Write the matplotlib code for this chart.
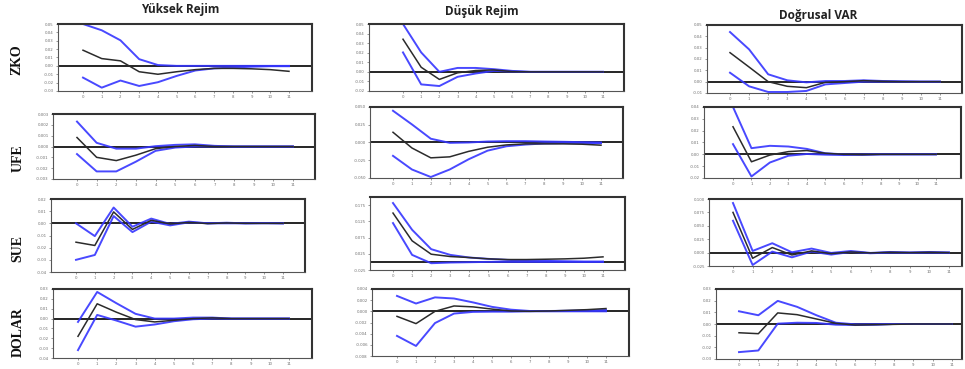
import numpy as np
import matplotlib.pyplot as plt

W, H = 965, 369

steps = list(range(12))
col_titles = ["Yüksek Rejim", "Düşük Rejim", "Doğrusal VAR"]
row_names = ["ZKO", "UFE", "SUE", "DOLAR"]

# --- Yüksek Rejim ---
yr_zko = [0.0187, 0.0087, 0.006, -0.007, -0.010, -0.007, -0.0045, -0.003, -0.003, -0.0035, -0.0045, -0.0065]
yr_zko_up = [0.050, 0.0425, 0.0305, 0.008, 0.001, 0.0, 0.0, 0.0, 0.0, 0.0, 0.0, 0.0]
yr_zko_lo = [-0.014, -0.026, -0.0175, -0.024, -0.0195, -0.012, -0.0055, -0.003, -0.002, -0.001, -0.0004, -0.0004]

yr_ufe = [0.00083, -0.0010, -0.0013, -0.0008, -0.0002, 0.0, 0.0001, 0.0, 0.0, 0.0, 0.0, 0.0]
yr_ufe_up = [0.0023, 0.00034, -0.0002, -0.0002, 0.00003, 0.00015, 0.0002, 0.00006, 0.0, 0.0, 0.0, 0.0]
yr_ufe_lo = [-0.0007, -0.0023, -0.0023, -0.0014, -0.0004, -0.0001, 0.0, 0.0, 0.0, 0.0, 0.0, 0.0]

yr_sue = [-0.0155, -0.0182, 0.0094, -0.005, 0.0025, -0.0005, 0.0008, -0.0002, 0.0003, 0.0, 0.0, 0.0]
yr_sue_up = [0.0, -0.0105, 0.013, -0.0028, 0.0039, -0.0005, 0.0014, 0.0, 0.0005, 0.0, 0.0003, 0.0]
yr_sue_lo = [-0.030, -0.026, 0.006, -0.0072, 0.0014, -0.0017, 0.0008, 0.0, 0.0, 0.0, 0.0, 0.0]

yr_dolar = [-0.018, 0.015, 0.0065, -0.001, -0.0034, -0.0017, 0.0, 0.0007, 0.0, 0.0, 0.0, 0.0]
yr_dolar_up = [-0.0034, 0.027, 0.0156, 0.0048, 0.0, 0.0, 0.001, 0.001, 0.0, 0.0, 0.0, 0.0]
yr_dolar_lo = [-0.032, 0.0037, -0.002, -0.0082, -0.006, -0.0027, -0.0007, 0.0, 0.0, 0.0, 0.0, 0.0]

# --- Düşük Rejim ---
dr_zko = [0.0341, 0.0048, -0.0079, -0.001, 0.0014, 0.002, 0.0003, 0.0, 0.0, 0.0, 0.0, 0.0]
dr_zko_up = [0.050, 0.0203, 0.0, 0.0041, 0.0041, 0.0028, 0.001, 0.0, 0.0, 0.0, 0.0, 0.0]
dr_zko_lo = [0.0203, -0.0131, -0.0148, -0.0052, -0.0017, 0.001, 0.0003, 0.0, 0.0, 0.0, 0.0, 0.0]

dr_ufe = [0.0144, -0.0077, -0.0216, -0.0202, -0.0125, -0.0067, -0.0034, -0.0019, -0.0019, -0.0019, -0.0024, -0.0038]
dr_ufe_up = [0.0447, 0.0255, 0.0053, -0.0005, 0.0, 0.0014, 0.0019, 0.0019, 0.0014, 0.001, 0.0005, 0.0]
dr_ufe_lo = [-0.0188, -0.038, -0.0486, -0.038, -0.0236, -0.0115, -0.0053, -0.0029, -0.0014, -0.001, -0.001, -0.001]

dr_sue = [0.1505, 0.065, 0.0237, 0.0165, 0.0134, 0.0093, 0.0072, 0.0072, 0.0082, 0.0093, 0.0113, 0.0155]
dr_sue_up = [0.1814, 0.099, 0.0392, 0.0216, 0.0134, 0.0093, 0.0062, 0.0041, 0.0031, 0.002, 0.001, 0.001]
dr_sue_lo = [0.1196, 0.0216, -0.0041, -0.002, -0.001, 0.0, 0.0, 0.0, 0.0, 0.0, 0.0, 0.0]

dr_dolar = [-0.0009, -0.0022, 0.0, 0.00096, 0.0008, 0.0004, 0.00006, 0.0, 0.00006, 0.00018, 0.0003, 0.0005]
dr_dolar_up = [0.00276, 0.0014, 0.0025, 0.0023, 0.0016, 0.0008, 0.0003, 0.00006, 0.00006, 0.0001, 0.00018, 0.00024]
dr_dolar_lo = [-0.0044, -0.0062, -0.0021, -0.0004, -0.0001, -0.00006, -0.00006, 0.0, 0.0, 0.0, 0.0, 0.0]

# --- Doğrusal VAR ---
dv_zko = [0.0256, 0.0129, 0.0, -0.0041, -0.0053, -0.0006, 0.0, 0.0009, 0.0003, 0.0, 0.0, 0.0]
dv_zko_up = [0.0438, 0.0285, 0.0065, 0.0012, -0.0006, 0.0006, 0.0006, 0.0012, 0.0006, 0.0003, 0.0, 0.0]
dv_zko_lo = [0.0079, -0.0041, -0.0091, -0.0091, -0.0082, -0.0024, -0.0012, 0.0, 0.0, 0.0, 0.0, 0.0]

dv_ufe = [0.0233, -0.0063, -0.0006, 0.0023, 0.0032, 0.0009, 0.0, -0.0003, 0.0, 0.0, 0.0, 0.0]
dv_ufe_up = [0.040, 0.0052, 0.0072, 0.0066, 0.0046, 0.0009, 0.0, -0.0003, 0.0, 0.0, 0.0, 0.0]
dv_ufe_lo = [0.0086, -0.0187, -0.0069, -0.0012, 0.0003, -0.0003, -0.0006, -0.0003, 0.0, 0.0, 0.0, 0.0]

dv_sue = [0.075, -0.0106, 0.0094, -0.0044, 0.0031, -0.0019, 0.0012, -0.0006, 0.0006, 0.0, 0.0006, 0.0]
dv_sue_up = [0.0925, 0.0031, 0.0175, 0.0006, 0.0075, -0.0006, 0.003, -0.0006, 0.0012, 0.0, 0.0012, 0.0]
dv_sue_lo = [0.0594, -0.0231, 0.0019, -0.0088, 0.0019, -0.0037, 0.0012, -0.0012, 0.0, 0.0, 0.0, 0.0]

dv_dolar = [-0.0075, -0.0083, 0.0095, 0.008, 0.0043, 0.0006, -0.0009, -0.0006, -0.0003, 0.0, 0.0, 0.0]
dv_dolar_up = [0.0109, 0.0075, 0.0198, 0.0147, 0.0075, 0.0011, -0.0003, -0.0003, 0.0, 0.0, 0.0, 0.0]
dv_dolar_lo = [-0.0241, -0.0227, 0.0003, 0.0011, 0.0009, -0.0006, -0.0009, -0.0006, 0.0, 0.0, 0.0, 0.0]

series = [
    [(yr_zko, yr_zko_up, yr_zko_lo), (dr_zko, dr_zko_up, dr_zko_lo), (dv_zko, dv_zko_up, dv_zko_lo)],
    [(yr_ufe, yr_ufe_up, yr_ufe_lo), (dr_ufe, dr_ufe_up, dr_ufe_lo), (dv_ufe, dv_ufe_up, dv_ufe_lo)],
    [(yr_sue, yr_sue_up, yr_sue_lo), (dr_sue, dr_sue_up, dr_sue_lo), (dv_sue, dv_sue_up, dv_sue_lo)],
    [(yr_dolar, yr_dolar_up, yr_dolar_lo), (dr_dolar, dr_dolar_up, dr_dolar_lo), (dv_dolar, dv_dolar_up, dv_dolar_lo)],
]

# y tick values for each panel
yticks = [
    [np.arange(-0.03, 0.0501, 0.01), np.arange(-0.02, 0.0501, 0.01), np.arange(-0.01, 0.0501, 0.01)],
    [np.arange(-0.003, 0.00301, 0.001), np.arange(-0.05, 0.0501, 0.025), np.arange(-0.02, 0.0401, 0.01)],
    [np.arange(-0.04, 0.0201, 0.01), np.arange(-0.025, 0.1751, 0.05), np.arange(-0.025, 0.1001, 0.025)],
    [np.arange(-0.04, 0.0301, 0.01), np.arange(-0.008, 0.00401, 0.002), np.arange(-0.03, 0.0301, 0.01)],
]
ylims = [
    [(-0.03, 0.05), (-0.02, 0.05), (-0.01, 0.05)],
    [(-0.003, 0.003), (-0.05, 0.05), (-0.02, 0.04)],
    [(-0.04, 0.02), (-0.025, 0.20), (-0.025, 0.10)],
    [(-0.04, 0.03), (-0.008, 0.004), (-0.03, 0.03)],
]
yfmt = [
    ["{:.2f}", "{:.2f}", "{:.2f}"],
    ["{:.3f}", "{:.3f}", "{:.2f}"],
    ["{:.2f}", "{:.3f}", "{:.3f}"],
    ["{:.2f}", "{:.3f}", "{:.2f}"],
]

# axes boxes in pixels: left, top, right, bottom, x of step 0, x of step 11
boxes = [
    [(58, 24, 312, 91, 83, 289), (369, 24, 624, 91, 403, 603), (707, 25, 962, 93, 730, 940)],
    [(53, 114, 315, 179, 77, 293), (370, 107, 623, 178, 393, 601), (704, 107, 961, 178, 733, 936)],
    [(51, 199, 305, 272, 76, 283), (370, 197, 625, 270, 393, 603), (709, 199, 962, 266, 733, 949)],
    [(53, 289, 312, 358, 78, 289), (372, 289, 629, 356, 397, 606), (716, 289, 962, 359, 739, 952)],
]

blue = "#3535ff"
dark = "#2b2b2b"


def fmt_tick(f, v):
    s = f.format(v)
    if abs(v) < 1e-9:
        s = s.lstrip("-")
    return s


fig = plt.figure(figsize=(W / 100, H / 100), dpi=100)

for r in range(4):
    for c in range(3):
        l, t, rr, b, x0, x11 = boxes[r][c]
        ax = fig.add_axes([l / W, 1 - b / H, (rr - l) / W, (b - t) / H])
        ppu = (x11 - x0) / 11
        ax.set_xlim((l - x0) / ppu, 11 + (rr - x11) / ppu)
        ax.set_ylim(*ylims[r][c])
        resp, up, lo = series[r][c]
        ax.axhline(0, color="black", lw=1.2, zorder=1)
        ax.plot(steps, up, color=blue, lw=1.4, alpha=0.9, zorder=2)
        ax.plot(steps, lo, color=blue, lw=1.4, alpha=0.9, zorder=2)
        ax.plot(steps, resp, color=dark, lw=1.1, zorder=3)
        ax.set_xticks(steps)
        ax.set_xticklabels([str(s) for s in steps])
        ax.set_yticks(yticks[r][c])
        ax.set_yticklabels([fmt_tick(yfmt[r][c], v) for v in yticks[r][c]])
        ax.tick_params(labelsize=2.8, length=1.5, width=0.5, colors="#6f6f6f", pad=1.5)
        for side in ["left", "bottom"]:
            ax.spines[side].set_linewidth(0.8)
            ax.spines[side].set_color("#555555")
        for side in ["top", "right"]:
            ax.spines[side].set_linewidth(1.5)
            ax.spines[side].set_color("#333333")

# column titles
title_pos = [(180, 9), (482, 12), (818, 16)]
for (x, y), txt in zip(title_pos, col_titles):
    fig.text(x / W, 1 - y / H, txt, ha="center", va="center", fontsize=8.5,
             fontweight="bold", family="Open Sans", color="#222222")

# row labels
row_pos = [(17, 60), (18, 158), (18, 248), (18, 332)]
for (x, y), txt in zip(row_pos, row_names):
    fig.text(x / W, 1 - y / H, txt, ha="center", va="center", rotation=90, fontsize=10,
             fontweight="bold", family="Liberation Serif", color="#111111")

fig.savefig("out.png", dpi=100)
